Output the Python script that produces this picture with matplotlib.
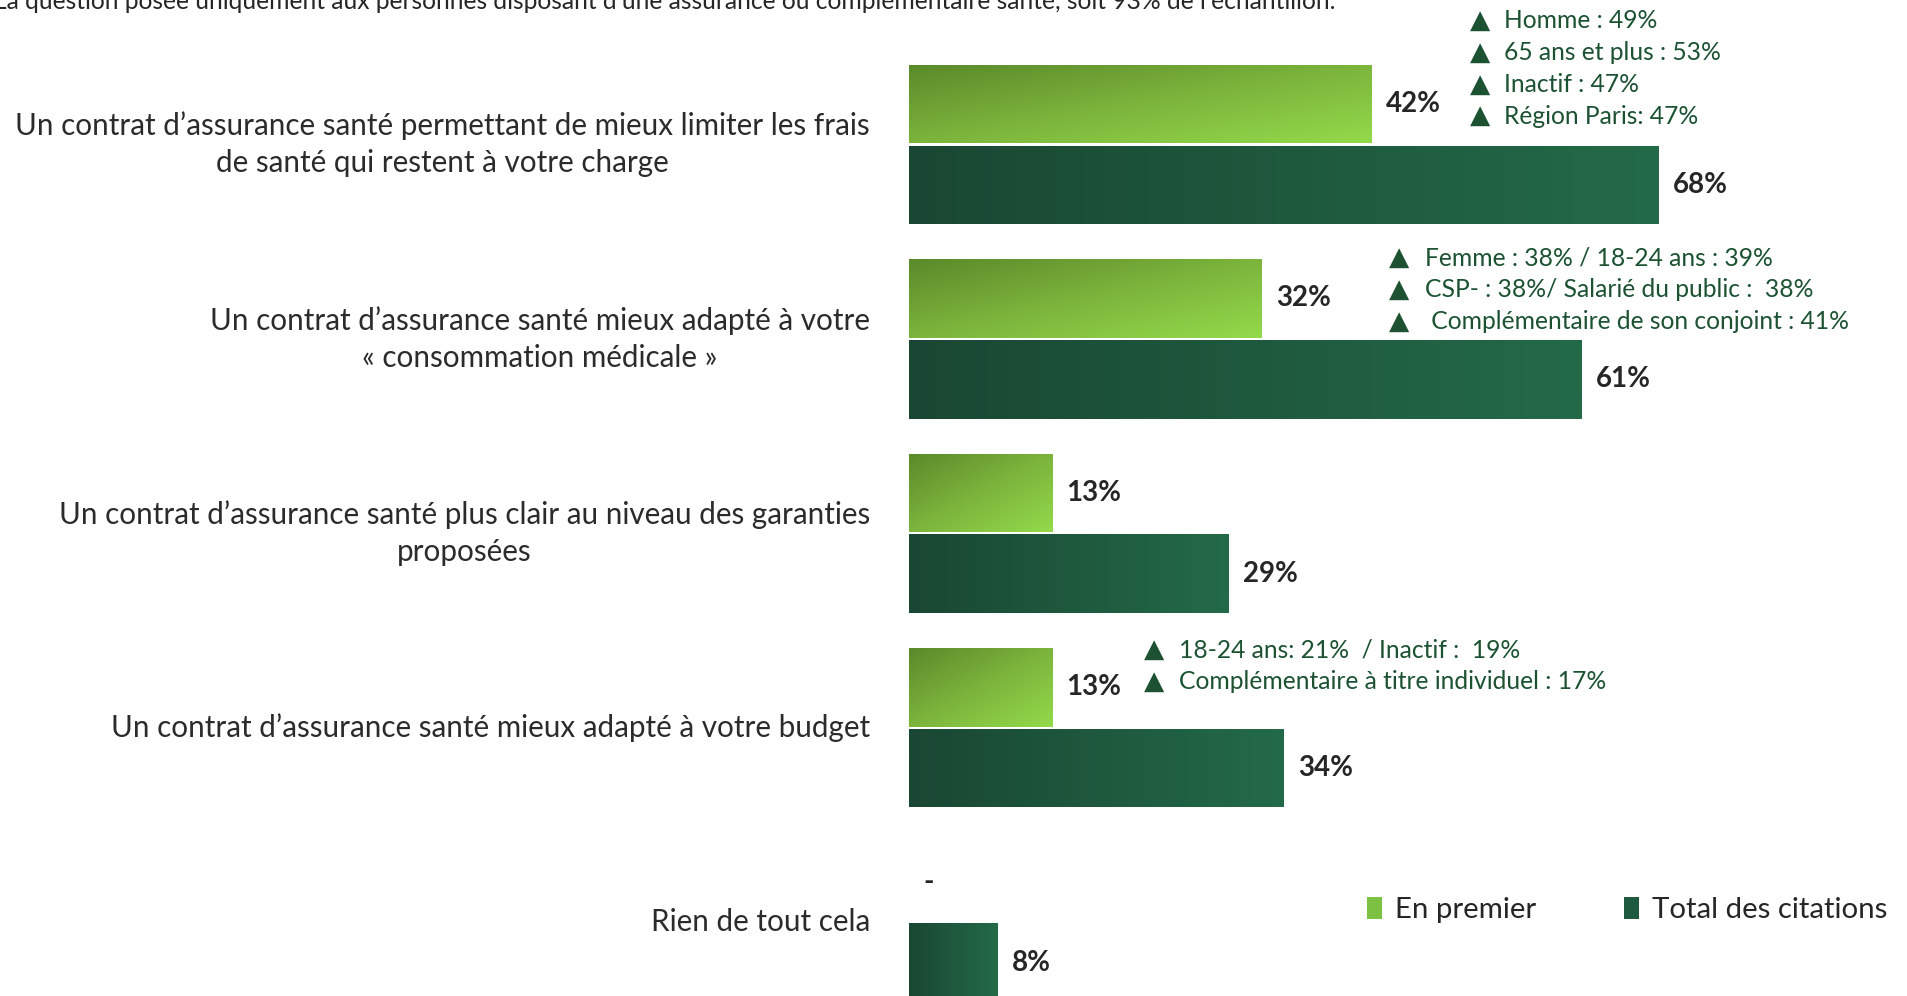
import matplotlib
matplotlib.use('Agg')
import matplotlib.pyplot as plt
from matplotlib.patches import Patch
from matplotlib.colors import LinearSegmentedColormap
import numpy as np

categories = [
    'Un contrat d’assurance santé permettant de mieux limiter les frais\nde santé qui restent à votre charge',
    'Un contrat d’assurance santé mieux adapté à votre\n« consommation médicale »',
    'Un contrat d’assurance santé plus clair au niveau des garanties\nproposées',
    'Un contrat d’assurance santé mieux adapté à votre budget',
    'Rien de tout cela',
]
en_premier = [42, 32, 13, 13, 0]
total_citations = [68, 61, 29, 34, 8]

notes = [
    ['Homme : 49%', '65 ans et plus : 53%', 'Inactif : 47%', 'Région Paris: 47%'],
    ['Femme : 38% / 18-24 ans : 39%', 'CSP- : 38%/ Salarié du public :  38%', ' Complémentaire de son conjoint : 41%'],
    [],
    ['18-24 ans: 21%  / Inactif :  19%', 'Complémentaire à titre individuel : 17%'],
    [],
]
# position of each note block in figure pixels: triangle x, text x, first line y
note_pos = [(1480, 1504, 21), (1399, 1425, 258), None, (1154, 1179, 650), None]

top_note = 'La question posée uniquement aux personnes disposant d’une assurance ou complémentaire santé, soit 93% de l’échantillon.'

W, H = 1908, 996
plt.rcParams['font.family'] = ['Lato', 'DejaVu Sans']

fig = plt.figure(figsize=(W / 100, H / 100), dpi=100)
fig.patch.set_facecolor('white')
ax = fig.add_axes([909 / W, 0, 1 - 909 / W, 1])

light_cmap = LinearSegmentedColormap.from_list('light', ['#5a8a2a', '#7cb43c', '#93da4a'])
dark_cmap = LinearSegmentedColormap.from_list('dark', ['#1a4733', '#236a48'])

y = np.arange(len(categories))
off = 0.208
h = 0.404
bars_light = ax.barh(y - off, en_premier, height=h, color='#7cb43c')
bars_dark = ax.barh(y + off, total_citations, height=h, color='#1f5a3e')

# gradients clipped to the bars
u, v = np.meshgrid(np.linspace(0, 1, 200), np.linspace(0, 1, 60))
diag = 0.5 * (u + v)
for b in bars_light:
    if b.get_width() <= 0:
        continue
    x0, y0, w, hh = b.get_x(), b.get_y(), b.get_width(), b.get_height()
    im = ax.imshow(diag, cmap=light_cmap, extent=[x0, x0 + w, y0 + hh, y0],
                   aspect='auto', interpolation='bilinear', zorder=2)
    im.set_clip_path(b)
for b in bars_dark:
    x0, y0, w, hh = b.get_x(), b.get_y(), b.get_width(), b.get_height()
    im = ax.imshow(u, cmap=dark_cmap, extent=[x0, x0 + w, y0 + hh, y0],
                   aspect='auto', interpolation='bilinear', zorder=2)
    im.set_clip_path(b)

for i in range(len(categories)):
    lab = '%d%%' % en_premier[i] if en_premier[i] > 0 else '-'
    ax.text(en_premier[i] + 1.3, y[i] - off, lab, va='center', ha='left',
            fontsize=20, fontweight='bold', color='#262626')
    ax.text(total_citations[i] + 1.3, y[i] + off, '%d%%' % total_citations[i], va='center', ha='left',
            fontsize=20, fontweight='bold', color='#262626')

ax.set_xlim(0, (W - 909) / 11.02)
ax.set_ylim((H - 144.5) / 194.4, -144.5 / 194.4)
ax.set_yticks(y)
ax.set_yticklabels(categories, fontsize=21.3, color='#2b2b2b', multialignment='center',
                   linespacing=1.39, va='center')
ax.tick_params(axis='y', length=0, pad=28)
ax.set_xticks([])
for s in ax.spines.values():
    s.set_visible(False)

# subgroup notes
green = '#1c5232'
for i, lines in enumerate(notes):
    if not lines:
        continue
    tx, lx, ly = note_pos[i]
    for j, line in enumerate(lines):
        yy = 1 - (ly + j * 31.7) / H
        fig.text(tx / W, yy, '▲', family='DejaVu Sans', fontsize=19, color=green, ha='center', va='center')
        fig.text(lx / W, yy, line, fontsize=17.7, color=green, ha='left', va='center')

fig.text(1336 / W, 1 - 9 / H, top_note, fontsize=17.7, color='#262626', ha='right', va='baseline')

handles = [Patch(facecolor='#7cc142'), Patch(facecolor='#1f5a3e')]
ax.legend(handles, ['En premier', 'Total des citations'], loc='center left',
          bbox_to_anchor=((1367 - 909) / (W - 909), 1 - 910 / H), ncol=2, frameon=False,
          fontsize=21.2, handlelength=0.5, handleheight=0.8, handletextpad=0.45,
          columnspacing=3.0, labelcolor='#262626', borderpad=0, borderaxespad=0)

fig.savefig('out.png', dpi=100)
